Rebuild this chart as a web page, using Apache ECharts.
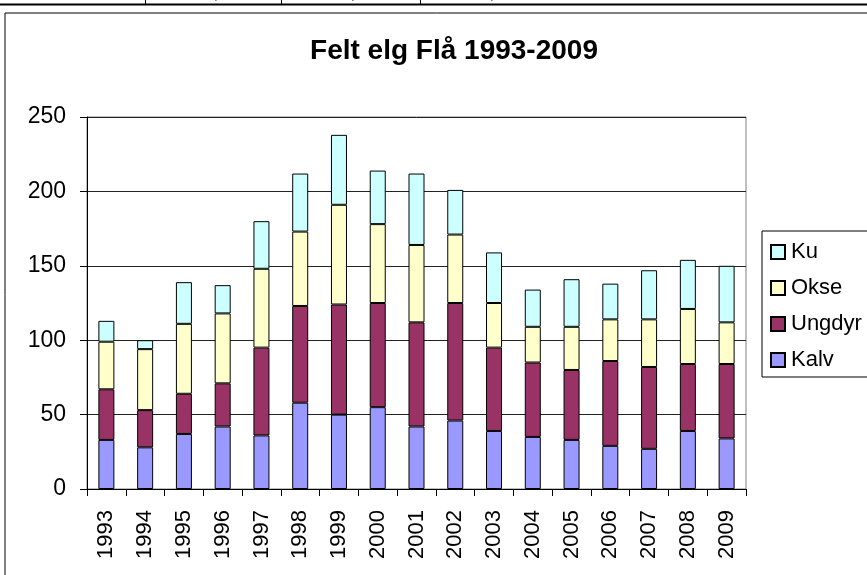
<!DOCTYPE html>
<html>
<head>
<meta charset="utf-8">
<script src="https://cdn.jsdelivr.net/npm/echarts@6/dist/echarts.min.js"></script>
<style>
html,body{margin:0;padding:0;background:#fff;}
#chart{width:867px;height:575px;}
</style>
</head>
<body>
<div id="chart"></div>
<script>
var years = ['1993','1994','1995','1996','1997','1998','1999','2000','2001','2002','2003','2004','2005','2006','2007','2008','2009'];
var kalv   = [33, 28, 37, 42, 36, 58, 50, 55, 42, 46, 39, 35, 33, 29, 27, 39, 34];
var ungdyr = [34, 25, 27, 29, 59, 65, 74, 70, 70, 79, 56, 50, 47, 57, 55, 45, 50];
var okse   = [32, 41, 47, 47, 53, 50, 67, 53, 52, 46, 30, 24, 29, 28, 32, 37, 28];
var ku     = [14,  6, 28, 19, 32, 39, 47, 36, 48, 30, 34, 25, 32, 24, 33, 33, 38];
var yTicks = [0, 50, 100, 150, 200, 250];
var titleText = 'Felt elg Flå 1993-2009';

var font = '"Liberation Sans", Arial, sans-serif';
var chart = echarts.init(document.getElementById('chart'), null, {renderer: 'canvas'});

function bar(name, data, color) {
  return {
    name: name, type: 'bar', stack: 'total', data: data, barWidth: 16,
    itemStyle: {color: color, borderColor: '#000', borderWidth: 1},
    emphasis: {disabled: true}
  };
}

chart.setOption({
  animation: false,
  backgroundColor: '#fff',
  title: {
    text: titleText, left: 449, top: 32, textAlign: 'center',
    textStyle: {fontFamily: font, fontSize: 28, fontWeight: 'bold', color: '#000'}
  },
  grid: {left: 87, right: 121, top: 117, bottom: 86, containLabel: false, outerBoundsMode: 'none',
    show: true, borderColor: '#808080', borderWidth: 1, backgroundColor: 'transparent'},
  legend: {
    orient: 'vertical', left: 762, top: 231, width: 130,
    data: ['Ku', 'Okse', 'Ungdyr', 'Kalv'],
    backgroundColor: '#fff', borderColor: '#000', borderWidth: 1,
    padding: [10, 20, 6, 8], itemGap: 14, itemWidth: 14, itemHeight: 14,
    icon: 'rect',
    textStyle: {fontFamily: font, fontSize: 22, color: '#000', padding: [0, 0, 0, 1]}
  },
  xAxis: {
    type: 'category', data: years,
    axisLine: {lineStyle: {color: '#000', width: 1}},
    axisTick: {show: true, interval: 0, length: 7, lineStyle: {color: '#000'}},
    axisLabel: {rotate: 90, interval: 0, fontFamily: font, fontSize: 22, color: '#000', margin: 21}
  },
  yAxis: {
    type: 'value', min: yTicks[0], max: yTicks[yTicks.length - 1], interval: 50,
    axisLine: {show: true, lineStyle: {color: '#000', width: 1}},
    axisTick: {show: true, length: 7, lineStyle: {color: '#000'}},
    axisLabel: {fontFamily: font, fontSize: 23, color: '#000', margin: 21},
    splitLine: {show: true, lineStyle: {color: '#222', width: 1}}
  },
  series: [
    bar('Kalv', kalv, '#9999FF'),
    bar('Ungdyr', ungdyr, '#993366'),
    bar('Okse', okse, '#FFFFCC'),
    bar('Ku', ku, '#CCFFFF')
  ],
  graphic: [
    {type: 'rect', shape: {x: 5, y: 13, width: 900, height: 600}, style: {fill: 'none', stroke: '#000', lineWidth: 1}, z: 100},
    {type: 'line', shape: {x1: 0, y1: 4.5, x2: 867, y2: 4.5}, style: {stroke: '#000', lineWidth: 2}, z: 100},
    {type: 'line', shape: {x1: 145.5, y1: 0, x2: 145.5, y2: 4}, style: {stroke: '#000', lineWidth: 1}, z: 100},
    {type: 'line', shape: {x1: 281.5, y1: 0, x2: 281.5, y2: 4}, style: {stroke: '#000', lineWidth: 1}, z: 100},
    {type: 'line', shape: {x1: 420.5, y1: 0, x2: 420.5, y2: 4}, style: {stroke: '#000', lineWidth: 1}, z: 100},
    {type: 'text', left: 214, top: -12, style: {text: ',', fontFamily: font, fontSize: 14, fill: '#000'}, z: 100},
    {type: 'text', left: 351, top: -12, style: {text: ',', fontFamily: font, fontSize: 14, fill: '#000'}, z: 100},
    {type: 'text', left: 490, top: -12, style: {text: ',', fontFamily: font, fontSize: 14, fill: '#000'}, z: 100}
  ]
});
</script>
</body>
</html>
